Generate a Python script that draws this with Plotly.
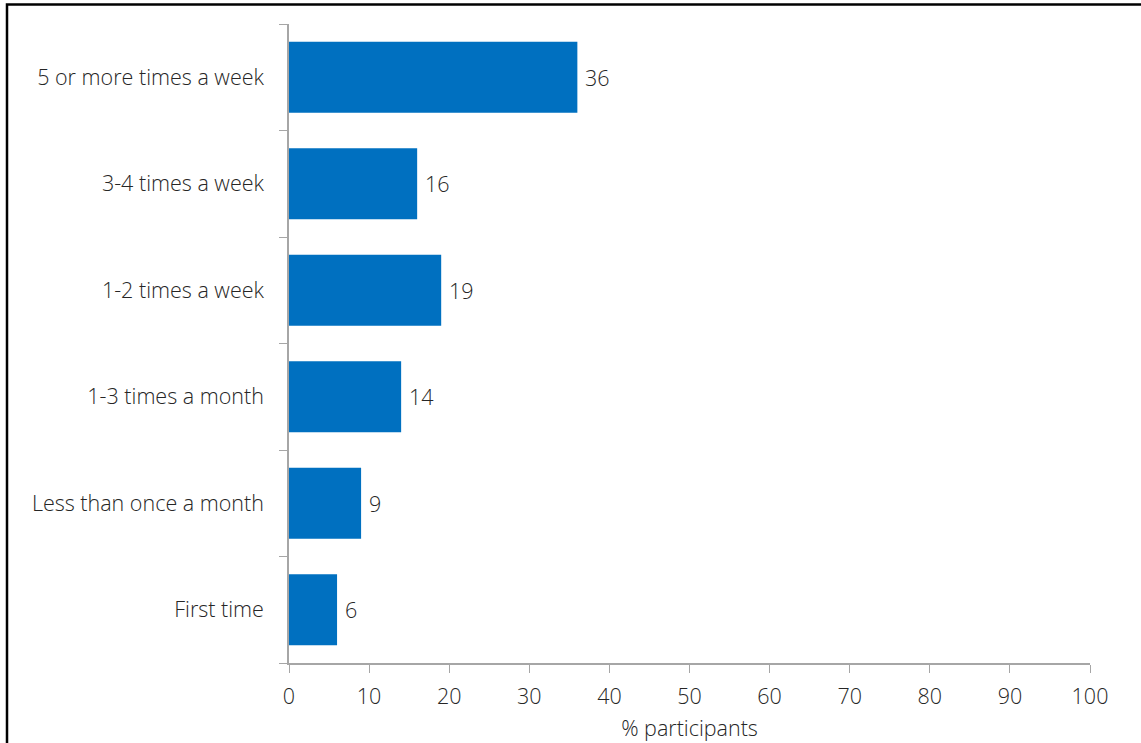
import plotly.graph_objects as go

categories = ["First time", "Less than once a month", "1-3 times a month",
              "1-2 times a week", "3-4 times a week", "5 or more times a week"]
values = [6, 9, 14, 19, 16, 36]
x_ticks = [0, 10, 20, 30, 40, 50, 60, 70, 80, 90, 100]

W, H = 1141, 743
L, T = 289, 24
R = W - 1090
B = H - 663
pw, ph = W - L - R, H - T - B

font = dict(family="Open Sans, Noto Sans, sans-serif", size=21.5, color="#262626",
            weight=350)

fig = go.Figure(go.Bar(
    x=values, y=categories, orientation="h",
    marker=dict(color="#0070c0", line=dict(width=0)),
    width=0.667, hoverinfo="x+y",
))

for v, c in zip(values, categories):
    fig.add_annotation(x=v, y=c, text=str(v), showarrow=False,
                       xanchor="left", yanchor="middle", xshift=6, font=font)

def px_x(p):
    return (p - L) / pw

def px_y(p):
    return (H - B - p) / ph

fig.add_shape(type="rect", xref="paper", yref="paper",
              x0=px_x(7), x1=px_x(1180), y0=px_y(780), y1=px_y(4.5),
              line=dict(color="black", width=2.5), fillcolor="rgba(0,0,0,0)",
              layer="above")

fig.update_layout(
    width=W, height=H,
    margin=dict(l=L, r=R, t=T, b=B, autoexpand=False),
    paper_bgcolor="white", plot_bgcolor="white",
    font=font, showlegend=False,
    xaxis=dict(range=[0, 100], tickvals=x_ticks, showgrid=False, zeroline=False,
               showline=True, linecolor="#a6a6a6", linewidth=1.5,
               ticks="outside", ticklen=8, tickcolor="#a6a6a6",
               ticklabelstandoff=5, automargin=False,
               title=dict(text="% participants", font=font, standoff=12),
               tickfont=font),
    yaxis=dict(showgrid=False, zeroline=False, showline=True, linecolor="#a6a6a6",
               linewidth=1.5, ticks="outside", ticklen=8, tickcolor="#a6a6a6",
               tickson="boundaries", tickfont=font, ticklabelstandoff=19,
               automargin=False,
               categoryorder="array", categoryarray=categories),
)

fig.write_html("out.html", config={"displayModeBar": False},
               post_script="document.body.style.margin='0';document.body.style.overflow='hidden';")
